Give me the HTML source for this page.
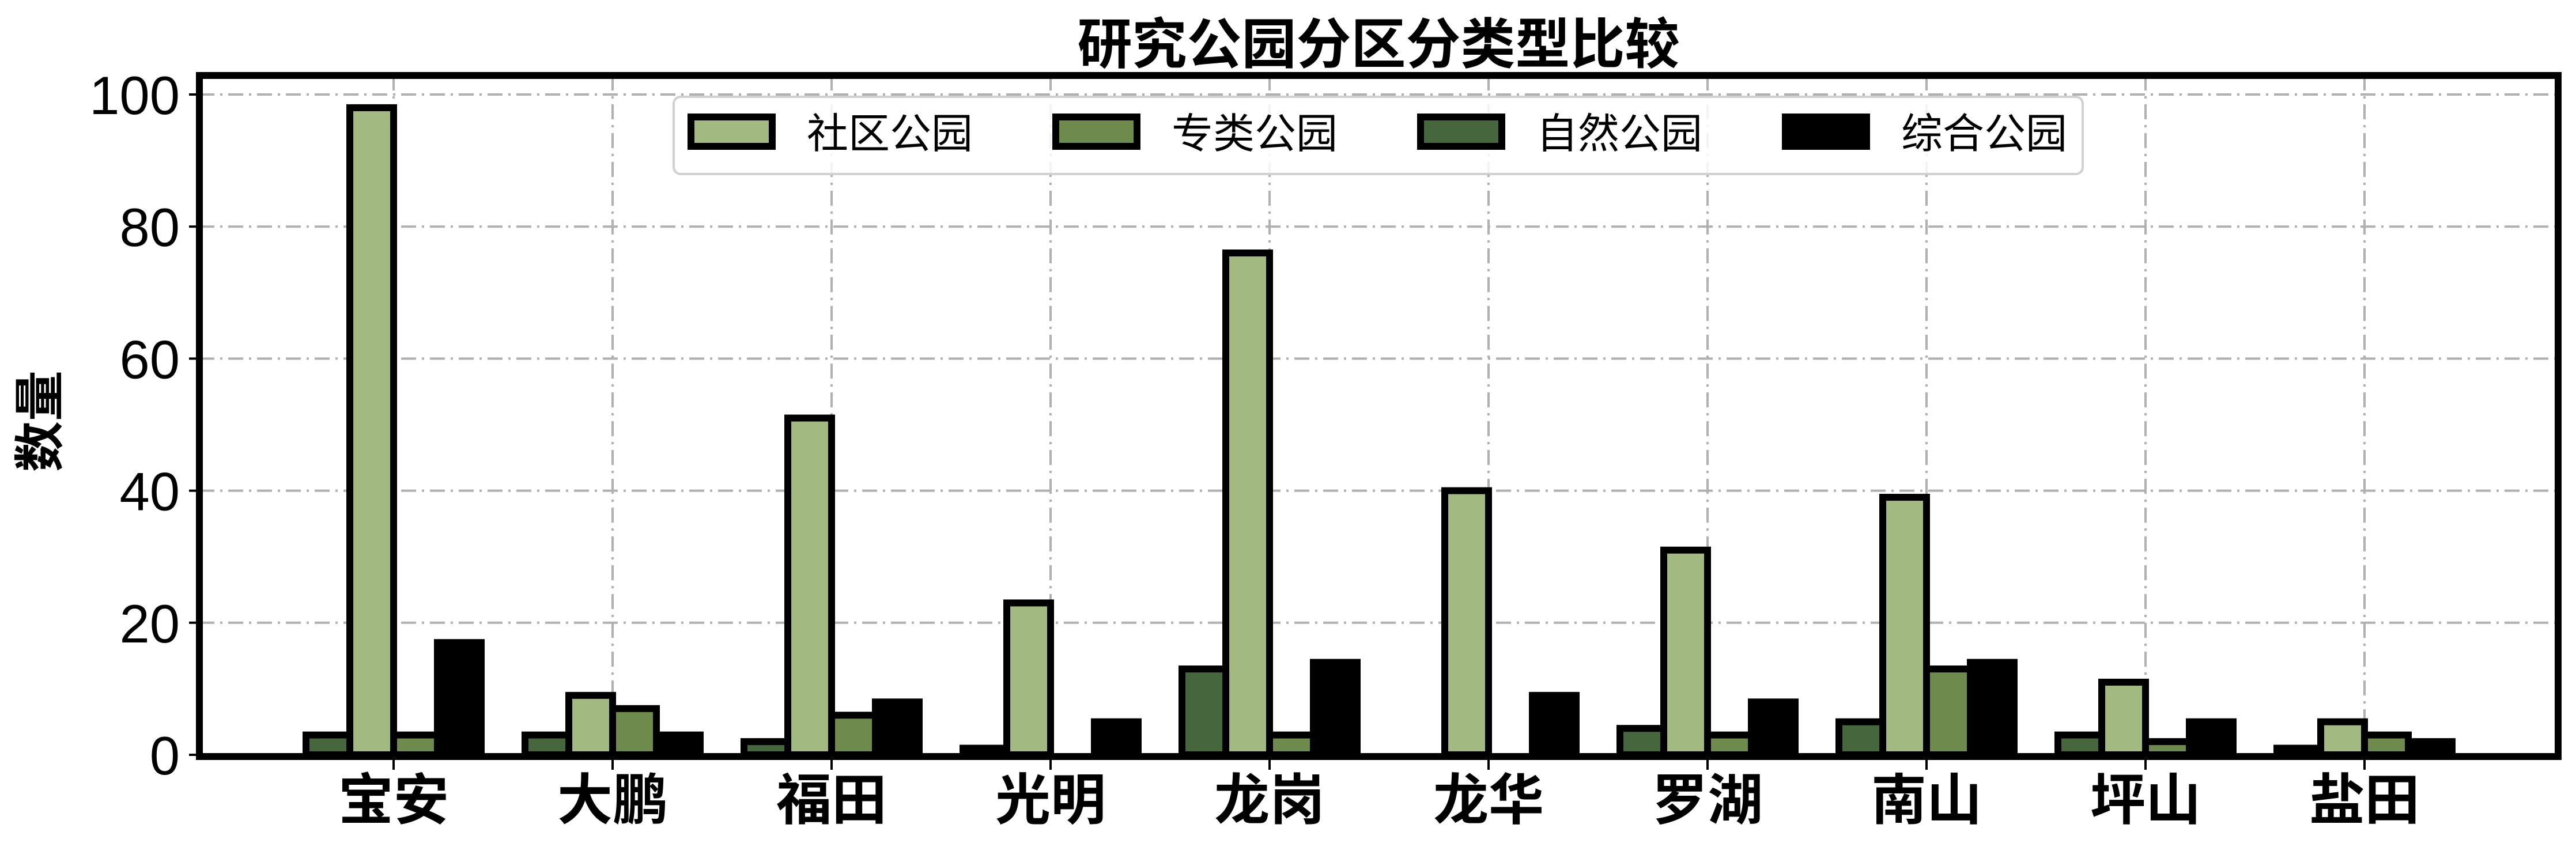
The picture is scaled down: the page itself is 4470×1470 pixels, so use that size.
<!DOCTYPE html>
<html><head><meta charset="utf-8"><style>
html,body{margin:0;padding:0;background:#fff;}
svg{display:block;}
text{font-family:"Liberation Sans","Noto Sans CJK SC",sans-serif;}
</style></head><body>
<svg id="chart" width="4470" height="1470" viewBox="0 0 4470 1470" xmlns="http://www.w3.org/2000/svg">
<rect width="4470" height="1470" fill="#fff"/>
<g id="grid"></g>
<g id="bars"></g>
<g id="axes"></g>
<text x="2392" y="110" text-anchor="middle" font-size="95" font-weight="bold">研究公园分区分类型比较</text>
<text transform="translate(100,731) rotate(-90)" text-anchor="middle" font-size="88" font-weight="bold">数量</text>
<g id="legend"></g>
</svg>
<script>
const categories = ["宝安","大鹏","福田","光明","龙岗","龙华","罗湖","南山","坪山","盐田"];
const community = [98,9,51,23,76,40,31,39,11,5];
const special = [3,7,6,0,3,0,3,13,2,3];
const natural = [3,3,2,1,13,0,4,5,3,1];
const comprehensive = [17,3,8,5,14,9,8,14,5,2];
const yTicks = [0,20,40,60,80,100];
const seriesNames = ["社区公园","专类公园","自然公园","综合公园"];

const NS = "http://www.w3.org/2000/svg";
const L = 346, R = 4439, T = 131, B = 1310;
const x0 = 683, step = 380;
const xScale = i => x0 + i * step;
const yScale = v => B - v * (B - 164) / 100;
const bw = 76;
function mk(tag, attrs, parent){const e=document.createElementNS(NS,tag);for(const k in attrs)e.setAttribute(k,attrs[k]);parent.appendChild(e);return e;}

const grid = document.getElementById('grid');
yTicks.forEach(t=>{
  if(t===0) return;
  const g = mk('line',{x1:L,x2:R,y1:yScale(t),y2:yScale(t),stroke:'#b0b0b0','stroke-width':4,'stroke-dasharray':'26 10 4 10'},grid);
  
  
});
categories.forEach((c,i)=>{
  const g = mk('line',{x1:xScale(i),x2:xScale(i),y1:T,y2:B,stroke:'#b0b0b0','stroke-width':4,'stroke-dasharray':'26 10 4 10'},grid);
  
  
});

const bars = document.getElementById('bars');
const series = [
 {vals:community, off:-0.5, fill:'#a3b982', name:'community'},
 {vals:special, off:0.5, fill:'#6e8a4c', name:'special'},
 {vals:natural, off:-1.5, fill:'#46673d', name:'natural'},
 {vals:comprehensive, off:1.5, fill:'#000', name:'comprehensive'}
];
series.forEach(s=>{
  s.vals.forEach((v,i)=>{
    const cx = xScale(i) + s.off*bw;
    const yt = yScale(v);
    const r = mk('rect',{x:cx-bw/2,y:yt,width:bw,height:Math.max(B-yt,0),fill:s.fill,stroke:'#000','stroke-width':12},bars);
    
    
  });
});

const axes = document.getElementById('axes');
const frame = mk('rect',{x:L,y:T,width:R-L,height:B+3-T,fill:'none',stroke:'#000','stroke-width':12},axes);


yTicks.forEach(t=>{
  const y=yScale(t);
  const tk = mk('line',{x1:328,x2:L,y1:y,y2:y,stroke:'#000','stroke-width':4},axes);
  
  
  const tx = mk('text',{x:312,y:y+34,'text-anchor':'end','font-size':94,'font-family':'"DejaVu Sans",sans-serif'},axes);
  tx.textContent=t;
  
  
});
categories.forEach((c,i)=>{
  const x=xScale(i);
  const tk = mk('line',{x1:x,x2:x,y1:B+6,y2:B+26,stroke:'#000','stroke-width':4},axes);
  
  
  const tx = mk('text',{x:x,y:1422,'text-anchor':'middle','font-size':96,'font-weight':'bold'},axes);
  tx.textContent=c;
  
  
});

const legend = document.getElementById('legend');
const lb = mk('rect',{x:1169,y:168,width:2445,height:134,rx:12,fill:'rgba(255,255,255,0.85)',stroke:'#d0d0d0','stroke-width':4},legend);


const legFills = ['#a3b982','#6e8a4c','#46673d','#000'];
seriesNames.forEach((n,i)=>{
  const x = 1193 + i*633;
  const p = mk('rect',{x:x+6,y:203,width:141,height:51,fill:legFills[i],stroke:'#000','stroke-width':12},legend);
  
  
  const t = mk('text',{x:x+207,y:257,'font-size':72},legend);
  t.textContent=n;
  
  
});
</script>
</body></html>
